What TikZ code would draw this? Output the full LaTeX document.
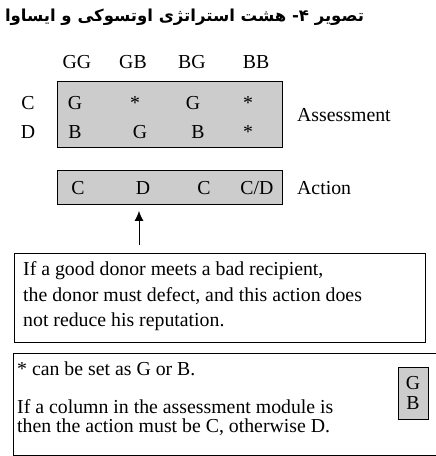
\documentclass[tikz,border=0pt]{standalone}
\usepackage{fontspec}
\setmainfont{Liberation Serif}
\newfontfamily\arabicfont[Script=Arabic]{DejaVu Sans}
\usetikzlibrary{arrows.meta}
\TeXXeTstate=1
\definecolor{boxgray}{gray}{0.8}
\tikzset{
  lbl/.style={font=\fontsize{19.8}{22}\selectfont, inner sep=0pt, anchor=base},
  lblw/.style={font=\fontsize{19.8}{22}\selectfont, inner sep=0pt, anchor=base west},
  graybox/.style={draw, fill=boxgray, line width=0.9pt, anchor=north west, inner sep=0pt},
  plainbox/.style={draw, line width=0.9pt, anchor=north west, inner sep=0pt},
}
\begin{document}
\begin{tikzpicture}[x=1pt,y=-1pt]
\useasboundingbox (0,0) rectangle (436,456);
% title
\node[inner sep=0pt, font=\fontsize{16.5}{18}\selectfont\arabicfont\bfseries] (title) at (184.5,17)
  {\beginR تصویر ۴- هشت استراتژی اوتسوکی و ایساوا\endR};
% assessment box
\node[graybox, minimum width=225pt, minimum height=66pt] (assess) at (57,81) {};
\node[graybox, minimum width=225pt, minimum height=34pt] (act) at (57,170) {};
% headers
\node[lbl] (hGG) at (77,68) {GG};
\node[lbl] (hGB) at (133,68) {GB};
\node[lbl] (hBG) at (192,68) {BG};
\node[lbl] (hBB) at (256,68) {BB};
% row labels
\node[lbl] (rC) at (28,109) {C};
\node[lbl] (rD) at (28,138) {D};
% cells row C
\node[lbl] (c11) at (75,109) {G};
\node[lbl] (c12) at (135,109) {*};
\node[lbl] (c13) at (193,109) {G};
\node[lbl] (c14) at (248,109) {*};
% cells row D
\node[lbl] (c21) at (75,138) {B};
\node[lbl] (c22) at (140,138) {G};
\node[lbl] (c23) at (198,138) {B};
\node[lbl] (c24) at (248,138) {*};
\node[lblw] (assesslbl) at (297,121) {Assessment};
% action row
\node[lbl] (a1) at (78,194) {C};
\node[lbl] (a2) at (143,194) {D};
\node[lbl] (a3) at (204,194) {C};
\node[lbl] (a4) at (257,194) {C/D};
\node[lblw] (actlbl) at (297,194) {Action};
% note box
\node[plainbox, minimum width=411pt, minimum height=89pt] (note) at (14,253) {};
\node[lblw] (n1) at (23,275) {If a good donor meets a bad recipient,};
\node[lblw] (n2) at (23,301) {the donor must defect, and this action does};
\node[lblw] (n3) at (23,326) {not reduce his reputation.};
% arrow
\coordinate (tail) at (139,245);
\draw[line width=0.9pt, -{Latex[length=10pt,width=9pt]}, shorten >=6pt] (tail) -- (tail |- act.south);
% legend box
\node[plainbox, minimum width=440pt, minimum height=102pt] (legend) at (13,353) {};
\node[lblw] (l1) at (17,375) {* can be set as G or B.};
\node[lblw] (l2) at (17,413) {If a column in the assessment module is};
\node[lblw] (l3) at (17,432) {then the action must be C, otherwise D.};
\node[graybox, minimum width=30pt, minimum height=52pt] (gb) at (398,367) {};
\node[lbl] (gbG) at (413,389) {G};
\node[lbl] (gbB) at (413,409) {B};
\end{tikzpicture}
\end{document}
